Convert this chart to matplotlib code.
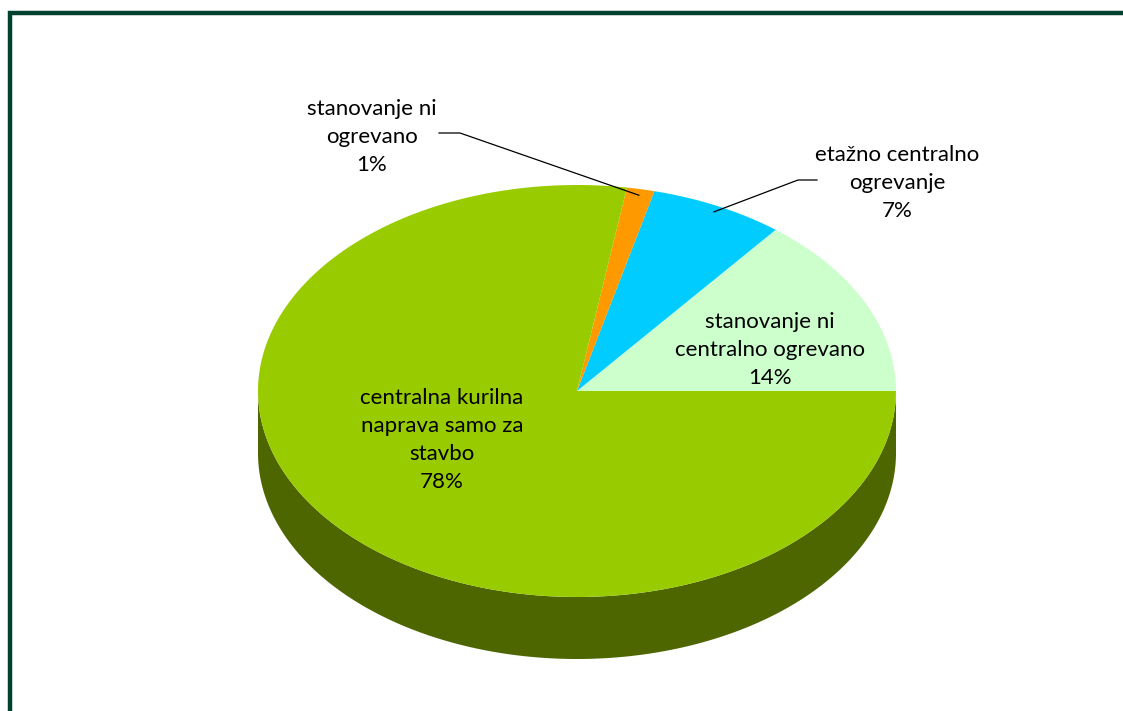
import numpy as np
import matplotlib.pyplot as plt
from matplotlib.patches import Polygon, Rectangle

plt.rcParams['font.family'] = ['Lato', 'DejaVu Sans']

# share of dwellings by heating type, counter-clockwise from 3 o'clock
labels = ['stanovanje ni\ncentralno ogrevano',
          'etažno centralno\nogrevanje',
          'stanovanje ni\nogrevano',
          'centralna kurilna\nnaprava samo za\nstavbo']
shares = [14.3, 6.8, 1.4, 77.5]
colors = ['#CCFFCC', '#00CCFF', '#FF9900', '#99CC00']
side_colors = ['#A3CCA3', '#00A3CC', '#CC7A00', '#4D6600']

# pie geometry in pixel units
cx, cy = 577, 391
rx, ry = 319, 206
depth = 62

fig = plt.figure(figsize=(11.23, 7.11), dpi=100)
ax = fig.add_axes([0, 0, 1, 1])
ax.set_xlim(0, 1123)
ax.set_ylim(711, 0)
ax.axis('off')


def rim(t0, t1, n=200):
    t = np.radians(np.linspace(t0, t1, n))
    return cx + rx * np.cos(t), cy - ry * np.sin(t)


fracs = np.array(shares) / sum(shares)
bounds = np.concatenate([[0], np.cumsum(fracs) * 360])

# side walls (only the front half is visible)
for i in range(len(shares)):
    t0, t1 = max(bounds[i], 180), min(bounds[i + 1], 360)
    if t1 <= t0:
        continue
    x, y = rim(t0, t1)
    pts = np.vstack([np.column_stack([x, y]),
                     np.column_stack([x[::-1], y[::-1] + depth])])
    ax.add_patch(Polygon(pts, closed=True, facecolor=side_colors[i],
                         edgecolor='none'))

# top faces
for i in range(len(shares)):
    x, y = rim(bounds[i], bounds[i + 1])
    pts = np.vstack([[cx, cy], np.column_stack([x, y])])
    ax.add_patch(Polygon(pts, closed=True, facecolor=colors[i],
                         edgecolor='none'))

fs = 16
ls = 1.5


def pct(v):
    return f'{v:.0f}%'


# inner labels
ax.text(770, 350, f'{labels[0]}\n{pct(shares[0])}', ha='center', va='center',
        fontsize=fs, linespacing=ls)
ax.text(442, 440, f'{labels[3]}\n{pct(shares[3])}', ha='center', va='center',
        fontsize=fs, linespacing=ls)

# outer labels with leader lines
ax.text(897, 183, f'{labels[1]}\n{pct(shares[1])}', ha='center', va='center',
        fontsize=fs, linespacing=ls)
ax.text(372, 137, f'{labels[2]}\n{pct(shares[2])}', ha='center', va='center',
        fontsize=fs, linespacing=ls)


def anchor(i):
    m = np.radians((bounds[i] + bounds[i + 1]) / 2)
    return cx + rx * np.cos(m) * 0.97, cy - ry * np.sin(m) * 0.97


ax_, ay_ = anchor(1)
ax.plot([817, 798, ax_], [180, 180, ay_], color='black', lw=0.9)
ax_, ay_ = anchor(2)
ax.plot([439, 460, ax_], [133, 133, ay_], color='black', lw=0.9)

# frame around the chart area
fig.patches.append(Rectangle((10 / 1123, -0.1), 1.2, (711 - 13) / 711 + 0.1,
                             transform=fig.transFigure, fill=False,
                             edgecolor='#00402F', linewidth=3.2))

fig.savefig('out.png', dpi=100)
